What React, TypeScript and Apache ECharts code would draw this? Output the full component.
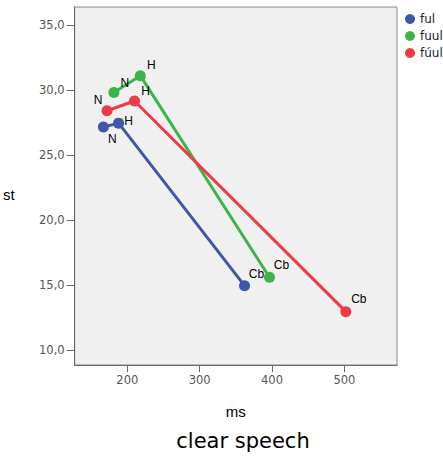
import React, { useEffect, useRef } from "react";
import * as echarts from "echarts";

// Vowel variants and the three measurement points per variant
const variants = ["ful", "fuul", "fúul"];
const pointNames = ["N", "H", "Cb"];

// Duration (ms) and pitch (st) for each point
const fulMs = [167, 188, 362];
const fulSt = [27.15, 27.45, 14.95];
const fuulMs = [181.5, 218, 396.5];
const fuulSt = [29.8, 31.1, 15.6];
const fuulAccMs = [172, 210, 502];
const fuulAccSt = [28.4, 29.15, 12.95];

const xTicks = [200, 300, 400, 500];
const yTicks = [10, 15, 20, 25, 30, 35];

const colors = ["#3f57a9", "#3bb54a", "#ef3b45"];

// Label offsets (label centre relative to the point centre)
const labelOffsets: number[][][] = [
  [[9, 12], [10, -2], [12, -12]],
  [[11, -10], [11, -11], [12, -12]],
  [[-9, -11], [11, -10], [13, -13]],
];

export default function App() {
  const ref = useRef<HTMLDivElement>(null);

  useEffect(() => {
    if (!ref.current) return;
    const chart = echarts.init(ref.current, undefined, { renderer: "svg" });
    const msSets = [fulMs, fuulMs, fuulAccMs];
    const stSets = [fulSt, fuulSt, fuulAccSt];

    const series = variants.map((name, i) => ({
      name,
      type: "line" as const,
      color: colors[i],
      symbol: "circle",
      symbolSize: 11,
      lineStyle: { width: 3, color: colors[i] },
      itemStyle: { color: colors[i] },
      data: msSets[i].map((ms, j) => ({
        value: [ms, stSets[i][j]],
        label: {
          show: true,
          formatter: pointNames[j],
          position: "inside",
          offset: labelOffsets[i][j],
          color: "#000",
          fontSize: 12,
          fontFamily: "Liberation Sans, Arial, sans-serif",
        },
      })),
    }));

    chart.setOption({
      animation: false,
      backgroundColor: "#fff",
      textStyle: { fontFamily: "DejaVu Sans, sans-serif" },
      grid: {
        left: 74,
        top: 7,
        right: 46,
        bottom: 93,
        show: true,
        backgroundColor: "#f0f0f0",
        borderColor: "#888",
        borderWidth: 1,
      },
      legend: {
        orient: "vertical",
        left: 400,
        top: 8,
        icon: "circle",
        itemWidth: 10,
        itemHeight: 10,
        itemGap: 5,
        textStyle: { fontSize: 12, color: "#222", fontFamily: "DejaVu Sans, sans-serif" },
        data: variants,
      },
      xAxis: {
        type: "value",
        min: 127.3,
        max: 572.7,
        name: "ms",
        nameLocation: "middle",
        nameGap: 39,
        nameTextStyle: { fontSize: 15, color: "#000", fontFamily: "Liberation Sans, Arial, sans-serif" },
        splitLine: { show: false },
        axisLine: { show: true, lineStyle: { color: "#666" } },
        axisTick: { show: true, length: 7, customValues: xTicks, lineStyle: { color: "#666" } },
        axisLabel: { customValues: xTicks, margin: 9, fontSize: 11.5, color: "#555" },
      },
      yAxis: {
        type: "value",
        min: 8.85,
        max: 36.38,
        name: "st",
        nameLocation: "middle",
        nameRotate: 0,
        nameGap: 60,
        nameTextStyle: {
          fontSize: 15,
          color: "#000",
          fontFamily: "Liberation Sans, Arial, sans-serif",
          verticalAlign: "top",
          padding: [1, 0, 0, 0],
        },
        splitLine: { show: false },
        axisLine: { show: true, lineStyle: { color: "#666" } },
        axisTick: { show: true, length: 8, customValues: yTicks, lineStyle: { color: "#666" } },
        axisLabel: {
          customValues: yTicks,
          margin: 10,
          fontSize: 11.5,
          color: "#555",
          formatter: (v: number) => v.toFixed(1).replace(".", ","),
        },
      },
      graphic: [
        {
          type: "text",
          x: 243,
          y: 441,
          style: {
            text: "clear speech",
            fontSize: 21,
            fill: "#000",
            fontFamily: "DejaVu Sans, sans-serif",
            textAlign: "center",
            textVerticalAlign: "middle",
          },
        },
      ],
      series,
    });

    return () => chart.dispose();
  }, []);

  return (
    <div
      ref={ref}
      style={{ position: "fixed", left: 0, top: 0, width: 443, height: 458 }}
    />
  );
}
